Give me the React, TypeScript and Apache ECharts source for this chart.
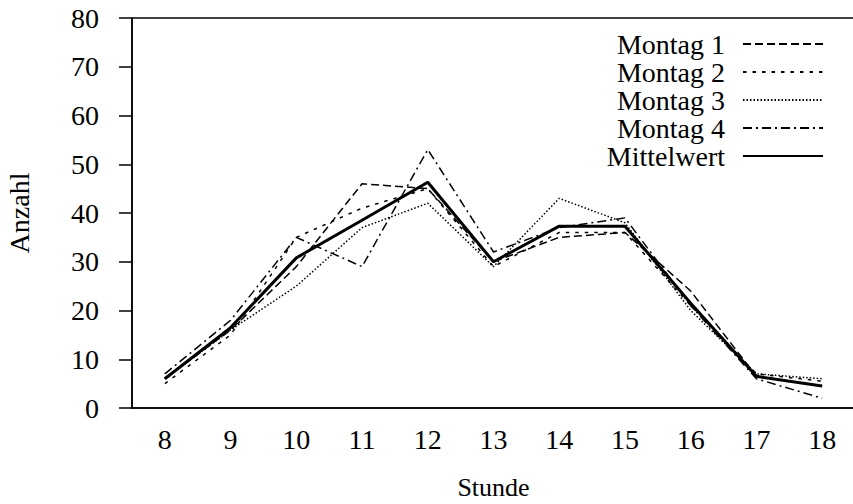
import React, { useEffect, useRef } from "react";
import * as echarts from "echarts";

const hours = ["8", "9", "10", "11", "12", "13", "14", "15", "16", "17", "18"];
const montag1 = [6, 16, 29, 46, 45, 30, 35, 36, 24, 6.5, 4.5];
const montag2 = [5, 15, 35, 41, 45, 29, 36, 36, 21, 7, 5.5];
const montag3 = [6, 16, 25, 37, 42, 29, 43, 38, 20, 7, 6];
const montag4 = [7, 18, 35, 29, 53, 32, 37, 39, 21, 6, 2];
const mittelwert = [6, 16.5, 30.8, 38.5, 46.3, 30, 37.3, 37.3, 21.5, 6.5, 4.5];
const yTicks = { min: 0, max: 80, interval: 10 };

const FONT = "'Liberation Serif', 'DejaVu Serif', serif";
const FS = 28;

export default function App() {
  const ref = useRef<HTMLDivElement>(null);
  useEffect(() => {
    if (!ref.current) return;
    const chart = echarts.init(ref.current, null, { renderer: "svg" });
    const mk = (name: string, data: number[], dash: number[] | "solid", width: number) => ({
      name,
      type: "line",
      data,
      symbol: "none",
      showSymbol: false,
      lineStyle: { color: "#000", width, type: dash },
      itemStyle: { color: "#000" },
      z: name === "Mittelwert" ? 5 : 3,
    });
    chart.setOption({
      animation: false,
      backgroundColor: "#fff",
      textStyle: { fontFamily: FONT, color: "#000" },
      grid: {
        left: 132,
        top: 18,
        width: 723,
        height: 390,
        outerBoundsMode: "none",
        containLabel: false,
        show: true,
        borderColor: "#000",
        borderWidth: 1.5,
        backgroundColor: "transparent",
      },
      legend: {
        orient: "vertical",
        align: "right",
        right: 29,
        top: 30,
        padding: 0,
        itemGap: 0,
        itemWidth: 80,
        itemHeight: 14,
        itemStyle: { opacity: 0 },
        textStyle: {
          fontFamily: FONT,
          fontSize: FS,
          color: "#000",
          lineHeight: 27.7,
          padding: [0, 13, 0, 0],
        },
        data: ["Montag 1", "Montag 2", "Montag 3", "Montag 4", "Mittelwert"],
      },
      xAxis: {
        type: "category",
        data: hours,
        boundaryGap: true,
        name: "Stunde",
        nameLocation: "middle",
        nameGap: 69,
        nameTextStyle: { fontFamily: FONT, fontSize: 26, color: "#000", lineHeight: 20 },
        axisLine: { lineStyle: { color: "#000", width: 1.5 } },
        axisTick: { alignWithLabel: true, length: 12, lineStyle: { color: "#000", width: 1.5 } },
        axisLabel: { fontFamily: FONT, fontSize: FS, color: "#000", margin: 17 },
        splitLine: { show: false },
      },
      yAxis: {
        type: "value",
        min: yTicks.min,
        max: yTicks.max,
        interval: yTicks.interval,
        name: "Anzahl",
        nameLocation: "middle",
        nameGap: 99,
        nameTextStyle: { fontFamily: FONT, fontSize: FS, color: "#000" },
        axisLine: { show: true, lineStyle: { color: "#000", width: 1.5 } },
        axisTick: { show: true, length: 13, lineStyle: { color: "#000", width: 1.5 } },
        axisLabel: { fontFamily: FONT, fontSize: FS, color: "#000", margin: 33 },
        splitLine: { show: false },
      },
      series: [
        mk("Montag 1", montag1, [8, 4], 1.5),
        mk("Montag 2", montag2, [3.5, 6], 1.5),
        mk("Montag 3", montag3, [1.5, 2], 1.5),
        mk("Montag 4", montag4, [9, 4, 2, 4], 1.5),
        mk("Mittelwert", mittelwert, "solid", 3),
      ],
    });
    return () => chart.dispose();
  }, []);
  return (
    <div
      ref={ref}
      style={{ position: "fixed", left: 0, top: 0, width: 853, height: 504 }}
    />
  );
}
